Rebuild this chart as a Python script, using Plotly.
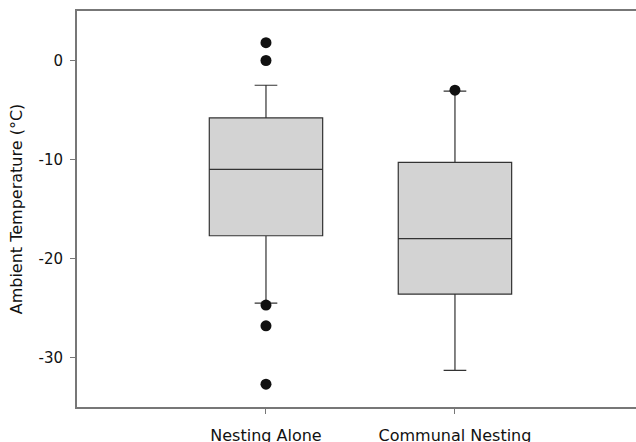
import plotly.graph_objects as go

categories = ["Nesting Alone", "Communal Nesting"]
cat_pos = [0, 1]
q1 = [-17.7, -23.6]
median = [-11.0, -18.0]
q3 = [-5.8, -10.3]
lower_whisker = [-24.5, -31.3]
upper_whisker = [-2.5, -3.1]

outlier_cat = [0, 0, 0, 0, 0, 1]
outlier_vals = [1.8, 0.0, -24.7, -26.8, -32.7, -3.0]

y_tickvals = [0, -10, -20, -30]
y_ticktext = ["0", "-10", "-20", "-30"]

fig = go.Figure()
fig.add_trace(go.Box(
    x=cat_pos, q1=q1, median=median, q3=q3,
    lowerfence=lower_whisker, upperfence=upper_whisker,
    width=0.6, whiskerwidth=0.2,
    fillcolor="#d3d3d3", line=dict(color="#333333", width=1.2),
    boxpoints=False, showlegend=False,
))
fig.add_trace(go.Scatter(
    x=outlier_cat, y=outlier_vals, mode="markers",
    marker=dict(color="#111111", size=11), showlegend=False,
))

fig.update_layout(
    width=636, height=442,
    margin=dict(l=77, r=0, t=11, b=35),
    plot_bgcolor="white", paper_bgcolor="white",
    font=dict(family="DejaVu Sans", size=15, color="#111111"),
)
fig.update_xaxes(
    range=[-1.0, 1.958], tickvals=cat_pos, ticktext=categories,
    showline=True, linecolor="#777777", linewidth=2, mirror=True,
    ticks="outside", ticklen=5, tickcolor="#777777", tickwidth=1,
    ticklabelstandoff=8, showgrid=False, zeroline=False,
    tickfont=dict(size=16), automargin=False,
)
fig.update_yaxes(
    range=[-35, 5], tickvals=y_tickvals, ticktext=y_ticktext,
    showline=True, linecolor="#777777", linewidth=2,
    ticks="outside", ticklen=5, tickcolor="#777777", tickwidth=1,
    ticklabelstandoff=4, showgrid=False, zeroline=False, automargin=False,
    tickfont=dict(size=15),
    title=dict(text="Ambient Temperature (°C)", font=dict(size=16), standoff=12),
)

fig.write_html(
    "out.html",
    config={"displayModeBar": False},
    post_script="document.body.style.margin='0';document.body.style.overflow='hidden';",
)
